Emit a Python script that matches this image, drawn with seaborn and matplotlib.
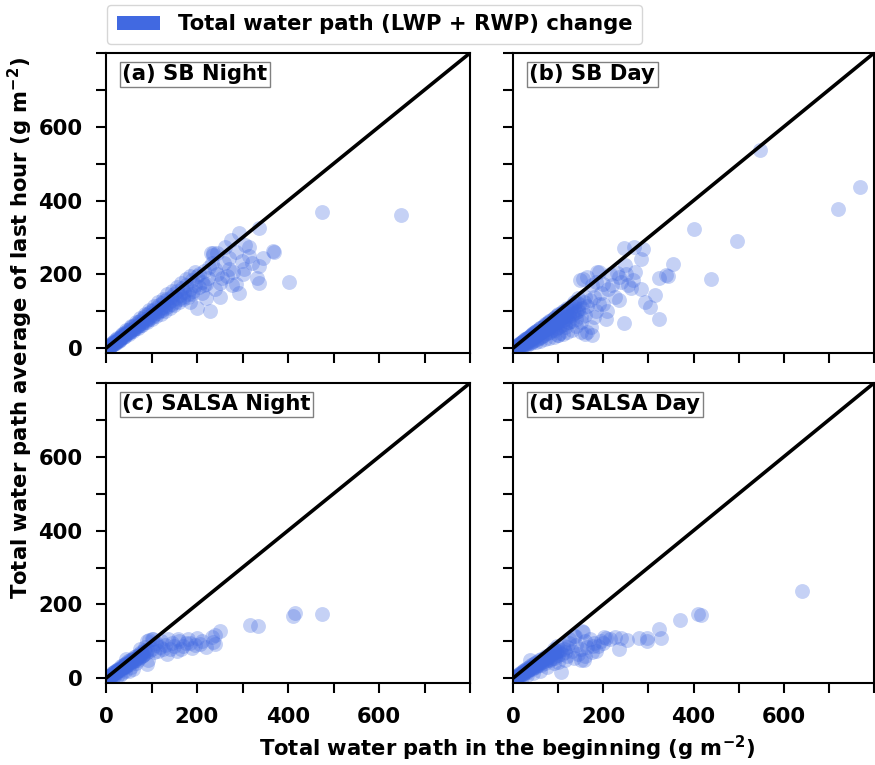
import matplotlib
matplotlib.use("Agg")
import matplotlib.pyplot as plt
from matplotlib.patches import Patch
from matplotlib.ticker import FixedLocator, FixedFormatter
import seaborn as sns
import pandas as pd

# ---- data: total water path at start (x) vs. last-hour average (y), g m-2 ----
sb_night_x = [3, 5, 6, 8, 9, 10, 12, 13, 14, 15, 17, 18, 20, 21, 22, 24, 25, 26, 28, 29, 30, 32, 33, 34,
              36, 37, 38, 40, 41, 42, 44, 45, 46, 48, 49, 50, 52, 53, 55, 56, 58, 59, 60, 62, 63, 65, 66,
              68, 70, 71, 72, 74, 76, 77, 79, 80, 82, 84, 85, 87, 89, 90, 92, 94, 95, 97, 99, 100, 102,
              104, 106, 108, 110, 112, 114, 116, 118, 120, 122, 124, 126, 128, 130, 132, 135, 137, 139,
              142, 144, 146, 149, 151, 154, 157, 160, 163, 166, 169, 172, 176, 180, 184, 188, 192, 196,
              200, 205, 210, 215, 220, 226, 232, 236, 240, 245,
              185, 199, 229, 251, 235, 231, 262, 275, 292, 314, 336, 366, 369, 344, 337, 303, 298, 315,
              331, 337, 280, 271, 286, 293, 403, 474, 648, 210, 220, 240, 255, 250, 265, 278, 300, 260,
              245, 225, 270, 285, 305, 320, 205, 215,
              15, 25, 35, 45, 55, 65, 75, 85, 95, 105, 115, 125, 135, 145, 155, 165, 175, 185, 195,
              20, 30, 40, 50, 60, 70, 80, 90, 100, 110, 120, 130, 140, 150, 160, 170, 180, 190,
              8, 12, 18, 22, 28]
sb_night_y = [2, 6, 3, 8, 5, 11, 8, 14, 10, 12, 18, 13, 21, 16, 19, 25, 20, 22, 29, 23, 26, 33, 27, 30,
              37, 31, 34, 41, 34, 38, 45, 38, 41, 49, 41, 45, 53, 45, 50, 57, 49, 53, 61, 53, 57, 66, 56,
              61, 71, 60, 65, 75, 64, 69, 80, 68, 74, 85, 72, 78, 90, 77, 83, 95, 80, 87, 100, 85, 92,
              104, 90, 97, 110, 95, 102, 116, 100, 108, 122, 104, 112, 127, 110, 118, 134, 115, 124,
              140, 120, 130, 147, 126, 137, 154, 133, 145, 162, 140, 152, 172, 148, 160, 184, 156, 170,
              196, 165, 180, 210, 175, 220, 230, 252, 215, 258,
              125, 108, 101, 176, 257, 259, 275, 293, 312, 275, 325, 264, 262, 244, 223, 214, 235, 250,
              189, 178, 207, 214, 174, 149, 180, 370, 361, 150, 135, 160, 190, 140, 195, 170, 200, 230,
              200, 190, 245, 260, 280, 230, 200, 170,
              17, 28, 39, 50, 61, 72, 82, 93, 104, 114, 124, 134, 146, 156, 166, 178, 188, 196, 207,
              14, 22, 30, 38, 46, 54, 62, 70, 78, 86, 94, 102, 110, 118, 125, 132, 140, 148,
              4, 7, 11, 15, 20]

sb_day_x = [2, 4, 5, 6, 7, 8, 9, 10, 11, 12, 13, 14, 15, 16, 17, 18, 19, 20, 21, 22, 23, 24, 25, 26, 27,
            28, 29, 30, 31, 32, 33, 34, 35, 36, 37, 38, 39, 40, 41, 42, 43, 44, 45, 46, 47, 48, 49, 50,
            52, 53, 54, 56, 57, 58, 60, 61, 62, 64, 65, 66, 68, 69, 70, 72, 73, 74, 76, 77, 78, 80, 82,
            83, 85, 86, 88, 90, 92, 93, 95, 97, 98, 100, 102, 104, 106, 108, 110, 112, 115, 117, 120,
            122, 125, 128, 130, 133, 136, 140, 143, 146, 150, 153, 157, 160, 165,
            155, 163, 173, 163, 190, 206, 209, 234, 261, 283, 292, 303, 314, 235, 267, 270, 248, 284,
            289, 268, 246, 245, 323, 323, 338, 344, 354, 438, 400, 497, 547, 721, 770,
            170, 180, 185, 195, 200, 210, 220, 225, 175, 185, 200, 215, 230, 240, 250, 255, 130, 140,
            120, 110, 150, 100, 180, 190, 160, 145, 135, 125, 115, 105, 149, 187, 160, 176, 150,
            10, 15, 20, 25, 30, 35, 40, 45, 50, 55, 60, 65, 70, 75, 80, 85, 90, 95, 100, 105, 110,
            115, 120, 125, 130, 135, 140, 145,
            20, 30, 40, 50, 60, 70, 80, 90, 100, 110, 120, 130, 140,
            10, 20, 30, 40, 50, 60, 70, 80, 90, 100]
sb_day_y = [2, 1, 4, 2, 6, 3, 8, 4, 9, 5, 11, 7, 13, 6, 15, 9, 16, 8, 18, 12, 20, 10, 22, 14, 24,
            11, 25, 17, 27, 13, 29, 20, 31, 15, 32, 23, 34, 17, 36, 26, 38, 20, 40, 29, 41, 22, 43, 32,
            46, 25, 36, 50, 28, 40, 54, 30, 44, 57, 33, 47, 61, 36, 51, 65, 40, 55, 69, 42, 58, 72, 45,
            62, 77, 48, 66, 82, 50, 70, 87, 55, 74, 92, 58, 78, 96, 62, 84, 100, 66, 88, 105,
            70, 94, 110, 75, 100, 115, 80, 105, 120, 85, 110, 125, 90, 115,
            188, 193, 58, 45, 206, 78, 101, 130, 162, 160, 126, 112, 145, 192, 186, 206, 225, 242,
            269, 275, 271, 69, 78, 190, 198, 196, 227, 188, 322, 290, 536, 377, 437,
            130, 140, 100, 150, 120, 160, 170, 140, 170, 180, 175, 200, 205, 180, 200, 170, 50, 60,
            45, 38, 70, 35, 85, 120, 140, 135, 125, 70, 58, 42, 185, 207, 38, 35, 45,
            7, 10, 14, 18, 21, 25, 28, 31, 35, 39, 42, 46, 49, 53, 56, 60, 63, 67, 70, 74, 77,
            80, 84, 88, 91, 95, 98, 101,
            18, 27, 36, 46, 55, 64, 74, 83, 90, 100, 108, 118, 125,
            3, 6, 10, 13, 17, 20, 24, 28, 31, 35]

salsa_night_x = [2, 4, 5, 7, 8, 10, 11, 13, 14, 16, 17, 19, 20, 22, 24, 25, 27, 29, 30, 32, 34, 35, 37,
                 39, 41, 43, 45, 47, 49, 51, 53, 55, 57, 59, 62, 64, 66, 69, 72, 75, 78, 81, 84, 88, 91,
                 92, 75, 95, 90, 100, 104, 110, 119, 135, 137, 155, 159, 170, 181, 188, 207, 235, 240,
                 233, 240, 251, 316, 333, 412, 415, 474, 45, 41, 30, 20, 55, 65, 100, 110, 120, 125,
                 130, 145, 150, 160, 175, 195, 210, 220, 105, 95, 85, 80, 70, 115, 140, 165, 185, 200,
                 60, 50, 35, 25, 15, 10,
                 5, 10, 15, 20, 25, 30, 35, 40, 45, 50, 55, 60, 65, 70, 75, 80, 85, 90,
                 12, 22, 32, 42, 52, 62, 72, 82]
salsa_night_y = [2, 3, 5, 5, 7, 8, 10, 10, 13, 12, 16, 15, 19, 17, 22, 20, 26, 23, 28, 26, 32, 28, 35,
                 30, 38, 34, 42, 37, 46, 40, 49, 44, 52, 47, 57, 50, 60, 55, 65, 58, 70, 62, 76, 68, 38,
                 49, 78, 104, 100, 105, 106, 90, 85, 65, 105, 74, 107, 87, 105, 81, 94, 97, 92,
                 113, 117, 129, 143, 141, 168, 178, 173, 52, 20, 10, 8, 30, 42, 80, 95, 100, 80,
                 90, 95, 88, 100, 95, 90, 100, 85, 70, 75, 85, 60, 48, 75, 80, 78, 95, 110,
                 25, 20, 15, 5, 3, 2,
                 4, 9, 13, 17, 21, 25, 30, 34, 38, 43, 47, 51, 56, 60, 64, 68, 73, 77,
                 6, 15, 22, 30, 38, 46, 55, 62]

salsa_day_x = [2, 4, 5, 7, 8, 10, 11, 13, 14, 16, 17, 19, 20, 22, 24, 25, 27, 29, 30, 32, 34, 36, 38,
               40, 42, 44, 46, 48, 50, 52, 55, 57, 60, 62, 65, 68, 70, 73, 76, 79, 82, 85, 88, 91, 94,
               97, 100, 104, 108, 112, 116, 120, 107, 37, 137, 151, 154, 178, 188, 206, 225, 239, 253,
               279, 297, 297, 329, 323, 369, 411, 416, 640, 235, 125, 130, 140, 150, 160, 165, 170,
               180, 195, 145, 135, 115, 100, 90, 110, 90, 160, 200, 215, 185, 120, 75, 60, 45, 30, 20,
               125, 98, 175, 156, 136, 202, 158,
               5, 10, 15, 20, 25, 30, 35, 40, 45, 50, 55, 60, 65, 70, 75, 80, 85, 90, 95, 100,
               12, 22, 32, 42, 52, 62, 72, 82, 92]
salsa_day_y = [1, 4, 2, 6, 3, 9, 5, 12, 7, 14, 9, 17, 11, 19, 14, 22, 16, 25, 19, 28, 22, 31, 25,
               35, 28, 38, 31, 42, 34, 45, 37, 48, 40, 52, 43, 55, 46, 60, 50, 63, 53, 67, 56, 70, 60,
               74, 63, 77, 66, 80, 70, 85, 17, 49, 114, 49, 129, 87, 87, 110, 112, 110, 103,
               110, 110, 101, 110, 133, 159, 174, 172, 235, 78, 95, 75, 90, 80, 100, 85, 105,
               95, 100, 65, 55, 50, 45, 40, 90, 80, 60, 95, 105, 75, 60, 30, 20, 15, 8, 4,
               105, 88, 70, 126, 114, 112, 49,
               3, 7, 11, 15, 19, 22, 26, 30, 34, 37, 41, 45, 48, 52, 56, 59, 63, 67, 70, 74,
               5, 12, 18, 24, 30, 36, 42, 48, 54]

panel_titles = ["(a) SB Night", "(b) SB Day", "(c) SALSA Night", "(d) SALSA Day"]
panel_x = [sb_night_x, sb_day_x, salsa_night_x, salsa_day_x]
panel_y = [sb_night_y, sb_day_y, salsa_night_y, salsa_day_y]

tick_values = [0, 100, 200, 300, 400, 500, 600, 700, 800]
tick_labels = ["0", "", "200", "", "400", "", "600", "", ""]

legend_label = "Total water path (LWP + RWP) change"
xlabel = "Total water path in the beginning (g m$^{-2}$)"
ylabel = "Total water path average of last hour (g m$^{-2}$)"

# ---- style ----
sns.set_style("ticks")
plt.rcParams["font.family"] = ["DejaVu Sans"]
plt.rcParams["font.weight"] = "bold"
plt.rcParams["axes.labelweight"] = "bold"
plt.rcParams["font.size"] = 15
for key in ["text.color", "axes.labelcolor", "xtick.color", "ytick.color", "axes.edgecolor"]:
    plt.rcParams[key] = "black"

point_color = "royalblue"
fs = 15.2

fig = plt.figure(figsize=(8.75, 7.65), dpi=100)
W, H = 875.0, 765.0
rects = [
    (106, 53, 364, 300),
    (513, 53, 361, 300),
    (106, 383, 364, 300),
    (513, 383, 361, 300),
]
axes = []
for i, (l, t, w, h) in enumerate(rects):
    ax = fig.add_axes([l / W, 1 - (t + h) / H, w / W, h / H])
    axes.append(ax)

for i, ax in enumerate(axes):
    df = pd.DataFrame({"start": panel_x[i], "last_hour": panel_y[i]})
    sns.scatterplot(data=df, x="start", y="last_hour", ax=ax, color=point_color,
                    alpha=0.3, s=115, linewidth=0, zorder=2)
    ax.plot([0, 800], [0, 800], color="black", lw=2.6, zorder=3)
    ax.set_xlim(0, 800)
    ax.set_ylim(-13, 800)
    ax.xaxis.set_major_locator(FixedLocator(tick_values))
    ax.yaxis.set_major_locator(FixedLocator(tick_values))
    row, col = divmod(i, 2)
    if row == 1:
        ax.xaxis.set_major_formatter(FixedFormatter(tick_labels))
    else:
        ax.set_xticklabels([])
    if col == 0:
        ax.yaxis.set_major_formatter(FixedFormatter(tick_labels))
    else:
        ax.set_yticklabels([])
    ax.set_xlabel("")
    ax.set_ylabel("")
    ax.tick_params(axis="both", direction="out", length=7, width=1.5, pad=10,
                   labelsize=fs, color="black", labelcolor="black")
    for lab in ax.get_xticklabels() + ax.get_yticklabels():
        lab.set_fontweight("bold")
    for sp in ax.spines.values():
        sp.set_linewidth(1.5)
        sp.set_color("black")
        sp.set_visible(True)
    ax.text(0.045, 0.962, panel_titles[i], transform=ax.transAxes, ha="left", va="top",
            fontsize=fs, fontweight="bold", color="black", zorder=5,
            bbox=dict(boxstyle="square,pad=0.12", facecolor="white", edgecolor="gray", lw=1))

fig.text(20 / W, 1 - 328 / H, ylabel, rotation=90, ha="center", va="center",
         fontsize=fs, fontweight="bold", color="black")
fig.text(507 / W, 1 - 748 / H, xlabel, ha="center", va="center",
         fontsize=fs, fontweight="bold", color="black")

handle = Patch(facecolor=point_color, edgecolor="none")
leg = fig.legend([handle], [legend_label], loc="upper left", bbox_to_anchor=(107 / W, 1 - 5 / H),
                 borderaxespad=0, prop={"weight": "bold", "size": fs}, frameon=True, fancybox=True,
                 edgecolor="#cccccc", handlelength=2.05, handleheight=0.65, borderpad=0.45,
                 handletextpad=0.85)
for t in leg.get_texts():
    t.set_color("black")

fig.savefig("out.png", dpi=100)
